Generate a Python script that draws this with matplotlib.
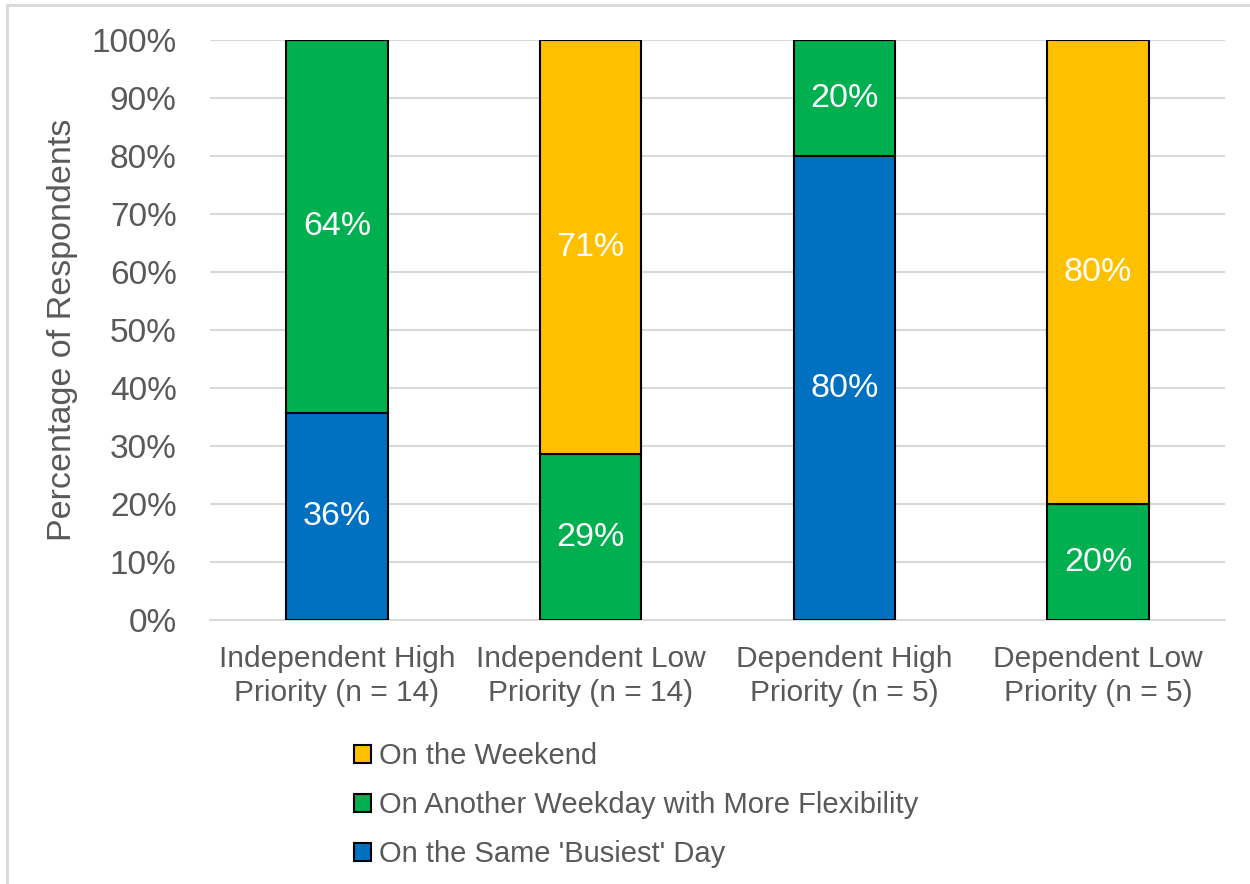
import numpy as np
import matplotlib.pyplot as plt
from matplotlib.patches import Rectangle

categories = ["Independent High\nPriority (n = 14)", "Independent Low\nPriority (n = 14)",
              "Dependent High\nPriority (n = 5)", "Dependent Low\nPriority (n = 5)"]
same_day = [35.7, 0, 80, 0]
other_weekday = [64.3, 28.6, 20, 20]
weekend = [0, 71.4, 0, 80]
series_names = ["On the Same 'Busiest' Day", "On Another Weekday with More Flexibility", "On the Weekend"]
colors = ["#0070C0", "#00B050", "#FFC000"]

plt.rcParams['font.family'] = ['Liberation Sans', 'DejaVu Sans']
gray = "#595959"

fig = plt.figure(figsize=(12.5, 8.84), dpi=100)
ax = fig.add_axes([0.168, 0.2986, 0.812, 0.6561])

# frame around the whole chart
fig.patches.append(Rectangle((0.0056, -0.1), 1.1, 1.1 - 5 / 884, transform=fig.transFigure,
                             fill=False, edgecolor="#d9d9d9", linewidth=2))

x = np.arange(len(categories))
bottom = np.zeros(len(categories))
handles = []
for vals, name, c in zip([same_day, other_weekday, weekend], series_names, colors):
    vals = np.array(vals)
    bars = ax.bar(x, vals, 0.4, bottom=bottom, color=c, edgecolor="black", linewidth=1.5,
                  label=name, zorder=3)
    for xi, v, b in zip(x, vals, bottom):
        if v > 0:
            ax.text(xi, b + v / 2, f"{v:.0f}%", ha="center", va="center",
                    color="white", fontsize=24.5, zorder=4)
    handles.append(bars)
    bottom += vals

ax.set_xlim(-0.5, 3.5)
ax.set_ylim(0, 100)
ax.set_yticks(np.arange(0, 101, 10))
ax.set_yticklabels([f"{t}%" for t in range(0, 101, 10)])
ax.set_xticks(x)
ax.set_xticklabels(categories, linespacing=1.25)
ax.tick_params(axis="y", length=0, labelsize=24, labelcolor=gray, pad=24)
ax.tick_params(axis="x", length=0, labelsize=21.5, labelcolor=gray, pad=18)
ax.grid(axis="y", color="#d9d9d9", linewidth=1.5, zorder=0)
for s in ["top", "right", "left"]:
    ax.spines[s].set_visible(False)
ax.spines["bottom"].set_color("#d9d9d9")
ax.spines["bottom"].set_linewidth(1.5)
ax.set_ylabel("Percentage of Respondents", fontsize=24.5, color=gray, labelpad=10)

leg = fig.legend(handles[::-1], series_names[::-1], loc="upper left",
                 bbox_to_anchor=(0.262, 0.19), frameon=False, fontsize=21,
                 handlelength=0.6, handleheight=0.6, handletextpad=0.25, labelspacing=0.72)
for t in leg.get_texts():
    t.set_color(gray)

fig.savefig("out.png", dpi=100)
